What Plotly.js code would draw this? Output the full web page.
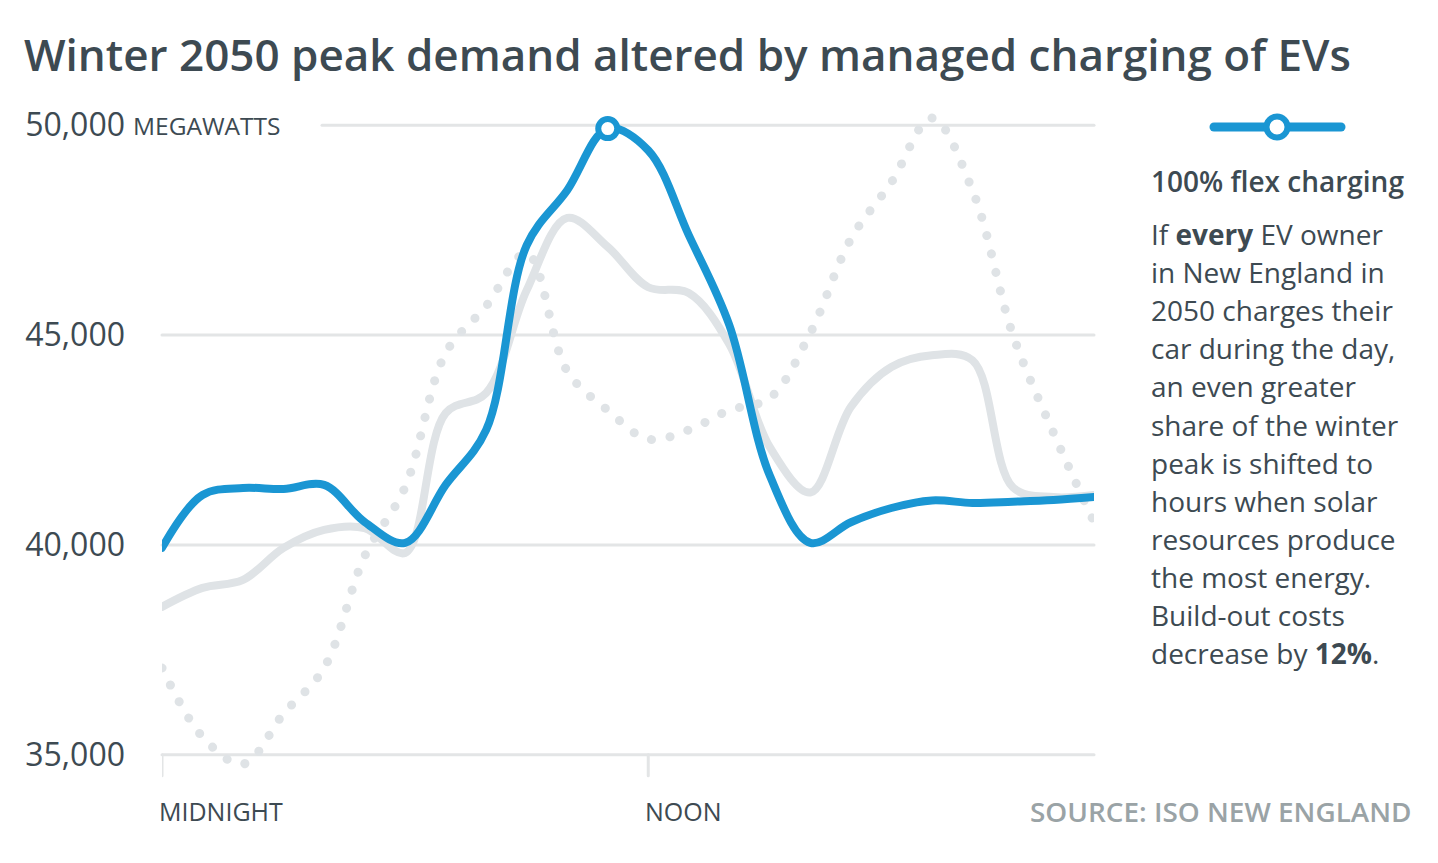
<!DOCTYPE html>
<html>
<head>
<meta charset="utf-8">
<script src="https://cdn.plot.ly/plotly-3.0.1.min.js"></script>
<style>
  html, body { margin: 0; padding: 0; background: #ffffff; }
  #chart { width: 1438px; height: 863px; }
  .scatterlayer .js-line { stroke-linecap: round; stroke-linejoin: round; }
  .shapelayer path { stroke-linecap: round; }
</style>
</head>
<body>
<div id="chart"></div>
<script>
// ---------------- DATA ----------------
const hours = [0, 1, 2, 3, 4, 5, 6, 7, 8, 9, 10, 11, 12, 13, 14, 15, 16, 17, 18, 19, 20, 21, 22, 23];

// 100% flex charging (highlighted, blue)
const flexCharging = [39930, 41190, 41357, 41333, 41430, 40548, 40048, 41430, 42740, 47140, 48450, 49920,
                      49400, 47380, 45240, 41650, 40050, 40540, 40880, 41060, 41000, 41030, 41070, 41140];

// other scenario (solid grey)
const otherScenario = [38524, 38976, 39167, 39929, 40357, 40400, 39810, 43140, 43620, 46070, 47790, 47100,
                       46140, 46000, 44780, 42330, 41250, 43290, 44240, 44520, 44400, 41370, 41140, 41190];

// unmanaged charging (dotted grey)
const unmanaged = [37070, 35430, 34780, 35980, 37070, 39730, 41380, 44570, 45690, 46950, 44140, 43210,
                   42520, 42740, 43210, 43500, 45050, 47290, 48640, 50170, 48450, 45000, 42670, 40550];

const peakHour = 11;

const yTickVals = [35000, 40000, 45000, 50000];
const yTickText = ['35,000', '40,000', '45,000', '50,000'];
const yUnit = 'MEGAWATTS';

const xTickVals = [0, 12];
const xTickText = ['MIDNIGHT', 'NOON'];

const titleText = 'Winter 2050 peak demand altered by managed charging of EVs';
const legendTitle = '100% flex charging';
const noteLines = [
  'If <b>every</b> EV owner',
  'in New England in',
  '2050 charges their',
  'car during the day,',
  'an even greater',
  'share of the winter',
  'peak is shifted to',
  'hours when solar',
  'resources produce',
  'the most energy.',
  'Build-out costs',
  'decrease by <b>12%</b>.'
];
const sourceText = 'SOURCE: ISO NEW ENGLAND';

// ---------------- STYLE / LAYOUT ----------------
const BLUE = '#1a96d3';
const GREY = '#dfe3e6';
const GRID = '#e3e5e6';
const TEXT = '#3d4a52';
const SRC = '#9aa3a6';
const FONT = '"Open Sans", "Noto Sans", sans-serif';

const L = 162, R = 1094, T = 100, B = 780;
const W = R - L, H = B - T;
const px2x = px => (px - L) / W;
const py2y = py => (B - py) / H;

const traces = [
  {
    x: hours, y: unmanaged, type: 'scatter', mode: 'lines',
    line: { color: GREY, width: 9, shape: 'spline', smoothing: 1, dash: '0.1px,18.8px' },
    hoverinfo: 'skip', showlegend: false
  },
  {
    x: hours, y: otherScenario, type: 'scatter', mode: 'lines',
    line: { color: GREY, width: 8, shape: 'spline', smoothing: 1 },
    hoverinfo: 'skip', showlegend: false
  },
  {
    x: hours, y: flexCharging, type: 'scatter', mode: 'lines',
    line: { color: BLUE, width: 8, shape: 'spline', smoothing: 1 },
    hoverinfo: 'skip', showlegend: false
  },
  {
    x: [hours[peakHour]], y: [flexCharging[peakHour]], type: 'scatter', mode: 'markers',
    marker: { size: 19, color: '#ffffff', line: { color: BLUE, width: 6 } },
    hoverinfo: 'skip', showlegend: false, cliponaxis: false
  }
];

const shapes = [];
yTickVals.forEach(v => {
  shapes.push({
    type: 'line', xref: 'paper', yref: 'y',
    x0: v === 50000 ? px2x(322) : 0, x1: 1, y0: v, y1: v,
    line: { color: GRID, width: 3 }, layer: 'below'
  });
});
xTickVals.forEach(v => {
  shapes.push({
    type: 'line', xref: 'x', yref: 'y',
    x0: v, x1: v, y0: 35000, y1: 34500,
    line: { color: GRID, width: 3 }, layer: 'below'
  });
});
// legend icon
shapes.push({
  type: 'line', xref: 'paper', yref: 'paper',
  x0: px2x(1214), x1: px2x(1341), y0: py2y(127), y1: py2y(127),
  line: { color: BLUE, width: 9 }, layer: 'above'
});
shapes.push({
  type: 'circle', xref: 'paper', yref: 'paper',
  x0: px2x(1277 - 10.5), x1: px2x(1277 + 10.5), y0: py2y(127 + 10.5), y1: py2y(127 - 10.5),
  fillcolor: '#ffffff', line: { color: BLUE, width: 6 }, layer: 'above'
});

const annotations = [];
annotations.push({
  text: yUnit, xref: 'paper', yref: 'y', x: px2x(131), y: 50000,
  xanchor: 'left', yanchor: 'middle', showarrow: false,
  font: { family: FONT, size: 24.5, color: TEXT }
});
xTickVals.forEach((v, i) => {
  annotations.push({
    text: xTickText[i], xref: 'x', yref: 'paper', x: v, y: py2y(811),
    xanchor: 'left', yanchor: 'middle', xshift: -5, showarrow: false,
    font: { family: FONT, size: 25, color: TEXT }
  });
});
annotations.push({
  text: legendTitle, xref: 'paper', yref: 'paper', x: px2x(1149), y: py2y(181),
  xanchor: 'left', yanchor: 'middle', showarrow: false,
  font: { family: FONT, size: 28, color: TEXT, weight: 600 }
});
noteLines.forEach((t, i) => {
  annotations.push({
    text: t, xref: 'paper', yref: 'paper', x: px2x(1149), y: py2y(234 + i * 38.1),
    xanchor: 'left', yanchor: 'middle', showarrow: false,
    font: { family: FONT, size: 28, color: TEXT }
  });
});
annotations.push({
  text: sourceText, xref: 'paper', yref: 'paper', x: px2x(1414), y: py2y(811),
  xanchor: 'right', yanchor: 'middle', showarrow: false,
  font: { family: FONT, size: 27.9, color: SRC, weight: 600 }
});

const layout = {
  width: 1438, height: 863,
  margin: { l: L, r: 1438 - R, t: T, b: 863 - B, pad: 0 },
  paper_bgcolor: '#ffffff', plot_bgcolor: '#ffffff',
  font: { family: FONT, color: TEXT },
  title: {
    text: titleText, xref: 'container', yref: 'container',
    x: 24 / 1438, xanchor: 'left', y: 1 - 56 / 863, yanchor: 'middle',
    font: { family: FONT, size: 44, color: TEXT, weight: 600 }
  },
  xaxis: {
    range: [0, 23], showgrid: false, zeroline: false, showline: false,
    showticklabels: false, ticks: '', fixedrange: true
  },
  yaxis: {
    range: [34400, 50600], showgrid: false, zeroline: false, showline: false,
    tickmode: 'array', tickvals: yTickVals, ticktext: yTickText, ticks: '',
    ticklabelstandoff: 36,
    tickfont: { family: FONT, size: 32, color: TEXT }, fixedrange: true
  },
  shapes: shapes,
  annotations: annotations,
  showlegend: false,
  hovermode: false
};

Plotly.newPlot('chart', traces, layout, { staticPlot: true, displayModeBar: false });
</script>
</body>
</html>
